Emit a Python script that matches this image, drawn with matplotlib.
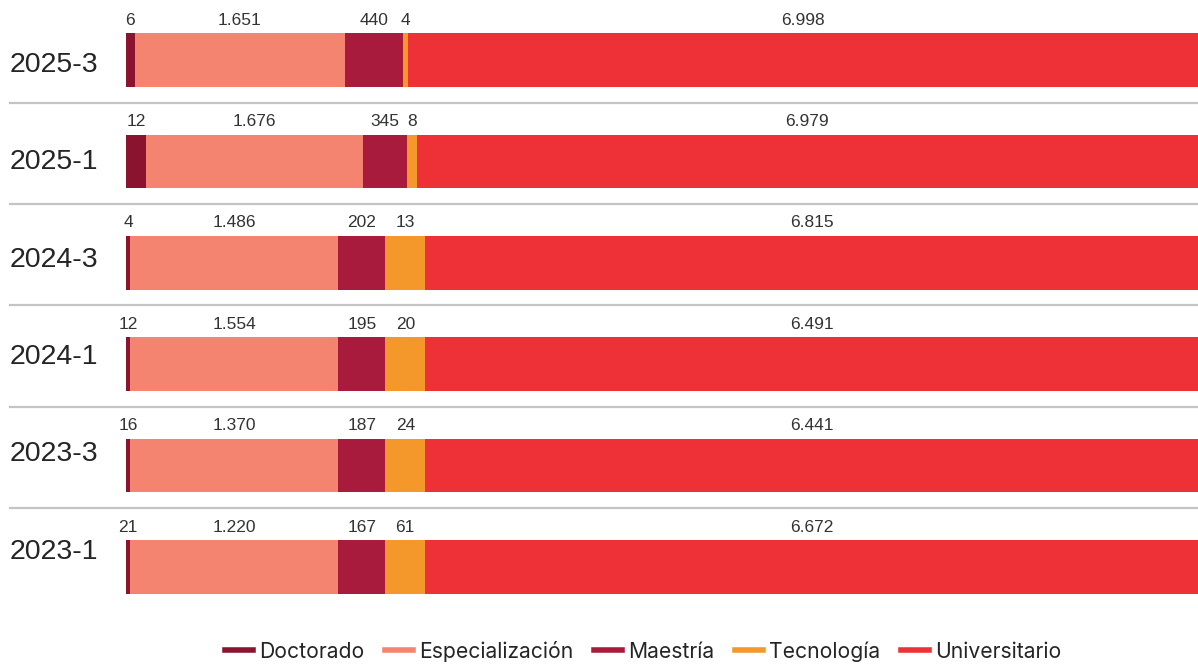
import matplotlib.pyplot as plt
from matplotlib.lines import Line2D
from matplotlib.transforms import blended_transform_factory

# periods, top row first
periods = ["2025-3", "2025-1", "2024-3", "2024-1", "2023-3", "2023-1"]
levels = ["Doctorado", "Especialización", "Maestría", "Tecnología", "Universitario"]
colors = ["#8A1430", "#F48470", "#A81B3C", "#F5982C", "#EE3137"]

# numbers printed above each segment
doctorado = [6, 12, 4, 12, 16, 21]
especializacion = [1651, 1676, 1486, 1554, 1370, 1220]
maestria = [440, 345, 202, 195, 187, 167]
tecnologia = [4, 8, 13, 20, 24, 61]
universitario = [6998, 6979, 6815, 6491, 6441, 6672]

# segment lengths as drawn (share of the bar, %)
w_doctorado = [0.8, 1.9, 0.4, 0.4, 0.4, 0.4]
w_especializacion = [19.6, 20.2, 19.4, 19.4, 19.4, 19.4]
w_maestria = [5.4, 4.1, 4.4, 4.4, 4.4, 4.4]
w_tecnologia = [0.5, 0.9, 3.7, 3.7, 3.7, 3.7]
w_universitario = [73.7, 72.9, 72.1, 72.1, 72.1, 72.1]

labels = [doctorado, especializacion, maestria, tecnologia, universitario]
widths = [w_doctorado, w_especializacion, w_maestria, w_tecnologia, w_universitario]


def fmt(v):
    return f"{v:,}".replace(",", ".")


W, H = 1198, 664
fig = plt.figure(figsize=(W / 100, H / 100), dpi=100)
ax = fig.add_axes([126 / W, 44 / H, 1 - 126 / W, 620 / H])

row_px = 101.4
top = -60 / row_px
bottom = (620 - 60) / row_px
ax.set_ylim(bottom, top)
ax.set_xlim(0, 100)

ypos = list(range(len(periods)))
left = [0.0] * len(periods)
for name, w, lab, c in zip(levels, widths, labels, colors):
    ax.barh(ypos, w, left=left, height=0.53, color=c, edgecolor="none")
    for i in ypos:
        ax.text(left[i] + w[i] / 2, i - 0.35, fmt(lab[i]), ha="center",
                va="baseline", fontsize=12.5, color="#333333",
                family="Liberation Sans")
    left = [a + b for a, b in zip(left, w)]

# period names (on a slightly tighter grid than the bars) and separators
tr = blended_transform_factory(fig.transFigure, ax.transData)
for i, p in enumerate(periods):
    ax.text(10 / W, 0.05 + i * 0.96, p, transform=tr, ha="left", va="center",
            fontsize=20.5, color="#252525", family="Liberation Sans")
    if i < len(periods) - 1:
        ax.plot([10 / W, 1], [i + 0.42, i + 0.42], transform=tr,
                color="#c4c4c4", lw=1.6, clip_on=False)

ax.axis("off")

handles = [Line2D([0], [0], color=c, lw=4) for c in colors]
fig.legend(handles, levels, loc="center", bbox_to_anchor=(0.537, 13 / H),
           ncol=5, frameon=False, handlelength=1.3, handletextpad=0.3,
           columnspacing=1.0, prop={"family": "Inter", "size": 15.2},
           labelcolor="#252525", borderpad=0.1)

fig.savefig("out.png", dpi=100)
